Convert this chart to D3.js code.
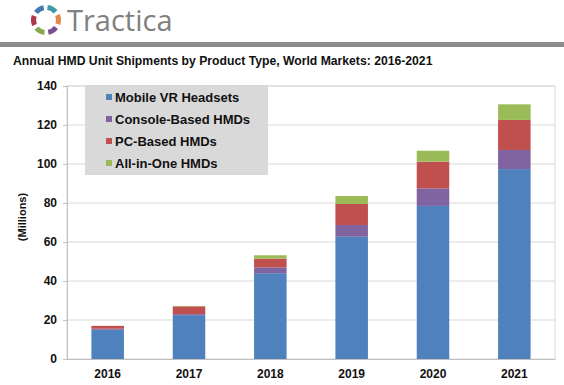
<!DOCTYPE html>
<html>
<head>
<meta charset="utf-8">
<script src="https://cdn.jsdelivr.net/npm/d3@7"></script>
<style>
  body { margin: 0; background: #fff; }
  svg { font-family: Arial, "Liberation Sans", sans-serif; }
</style>
</head>
<body>
<svg width="564" height="385"></svg>
<script>
// data
let years = ['2016', '2017', '2018', '2019', '2020', '2021'];
let seriesNames = ['Mobile VR Headsets', 'Console-Based HMDs', 'PC-Based HMDs', 'All-in-One HMDs'];
let mobileVR = [15, 22.5, 44, 62.7, 78.5, 97.4];
let consoleHMD = [0.5, 0.5, 3, 6, 9, 9.8];
let pcHMD = [1.5, 4, 4.5, 10.8, 13.7, 15.4];
let allInOne = [0, 0.2, 1.7, 4.1, 5.6, 8];
let yTicks = [0, 20, 40, 60, 80, 100, 120, 140];
let colors = ['#4f81bd', '#8064a2', '#c0504d', '#9bbb59'];

let svg = d3.select('svg');

// header: logo + brand
let logo = svg.append('g').attr('transform', 'translate(46,20)');
let logoColors = ['#3e9aa6', '#e3884a', '#7a4f8f', '#8aa84e', '#b03a48', '#4a78b5'];
let arc = d3.arc().innerRadius(10).outerRadius(15);
logoColors.forEach((c, i) => {
  let a0 = i * Math.PI / 3 + 0.12;
  logo.append('path')
    .attr('d', arc({startAngle: a0, endAngle: a0 + Math.PI / 3 - 0.3}))
    .attr('fill', c);
});
svg.append('text')
  .attr('x', 67).attr('y', 31)
  .attr('font-size', 29)
  .attr('font-family', '"Open Sans", sans-serif')
  .attr('fill', '#808080')
  .text('Tractica');

svg.append('rect')
  .attr('x', 0).attr('y', 42).attr('width', 564).attr('height', 5)
  .attr('fill', '#8c8c8c');

svg.append('text')
  .attr('x', 13).attr('y', 65)
  .attr('font-size', 12.2).attr('font-weight', 'bold')
  .attr('fill', '#111')
  .text('Annual HMD Unit Shipments by Product Type, World Markets: 2016-2021');

// chart area
let margin = {left: 67, right: 9, top: 86, bottom: 26};
let width = 564 - margin.left - margin.right;
let height = 385 - margin.top - margin.bottom;

let chart = svg.append('g').attr('transform', `translate(${margin.left},${margin.top})`);

let x = d3.scaleBand().domain(years).range([0, width]).paddingInner(0.6).paddingOuter(0.3);
let y = d3.scaleLinear().domain([0, 140]).range([height, 0]);

// plot border
chart.append('rect')
  .attr('width', width).attr('height', height)
  .attr('fill', 'none').attr('stroke', '#d9d9d9');

// gridlines
chart.selectAll('.grid')
  .data(yTicks.slice(1))
  .enter().append('line')
    .attr('x1', 0).attr('x2', width)
    .attr('y1', d => y(d)).attr('y2', d => y(d))
    .attr('stroke', '#d9d9d9');

// stacked bars
let rows = years.map((yr, i) => ({
  year: yr, s0: mobileVR[i], s1: consoleHMD[i], s2: pcHMD[i], s3: allInOne[i]
}));
let stack = d3.stack().keys(['s0', 's1', 's2', 's3']);
let layers = stack(rows);

chart.selectAll('g.layer')
  .data(layers)
  .enter().append('g')
    .attr('class', 'layer')
    .attr('fill', (d, i) => colors[i])
  .selectAll('rect')
  .data(d => d)
  .enter().append('rect')
    .attr('x', d => x(d.data.year))
    .attr('width', x.bandwidth())
    .attr('y', d => y(d[1]))
    .attr('height', d => y(d[0]) - y(d[1]));

// y axis
let yAxis = chart.append('g')
  .call(d3.axisLeft(y).tickValues(yTicks).tickSize(4).tickPadding(6));
yAxis.select('.domain').attr('stroke', '#bfbfbf');
yAxis.selectAll('.tick line').attr('stroke', '#bfbfbf');
yAxis.selectAll('text')
  .attr('font-size', 12).attr('font-weight', 'bold')
  .attr('font-family', 'Arial, "Liberation Sans", sans-serif')
  .attr('fill', '#111');

// x axis
let xAxis = chart.append('g')
  .attr('transform', `translate(0,${height})`)
  .call(d3.axisBottom(x).tickSize(0).tickPadding(10));
xAxis.select('.domain').attr('stroke', '#bfbfbf');
xAxis.selectAll('text')
  .attr('font-size', 12).attr('font-weight', 'bold')
  .attr('font-family', 'Arial, "Liberation Sans", sans-serif')
  .attr('fill', '#111');

// y axis title
svg.append('text')
  .attr('transform', 'translate(26,217) rotate(-90)')
  .attr('text-anchor', 'middle')
  .attr('font-size', 11).attr('font-weight', 'bold')
  .attr('fill', '#111')
  .text('(Millions)');

// legend
let legend = svg.append('g').attr('transform', 'translate(85,85)');
legend.append('rect')
  .attr('width', 183).attr('height', 90)
  .attr('fill', '#d9d9d9');

let items = legend.selectAll('g.item')
  .data(seriesNames)
  .enter().append('g')
    .attr('class', 'item')
    .attr('transform', (d, i) => `translate(21,${12 + i * 22})`);

items.append('rect')
  .attr('x', 0).attr('y', -3).attr('width', 6).attr('height', 6)
  .attr('fill', (d, i) => colors[i]);

items.append('text')
  .attr('x', 9).attr('y', 4.5)
  .attr('font-size', 13).attr('font-weight', 'bold')
  .attr('fill', '#111')
  .text(d => d);
</script>
</body>
</html>
